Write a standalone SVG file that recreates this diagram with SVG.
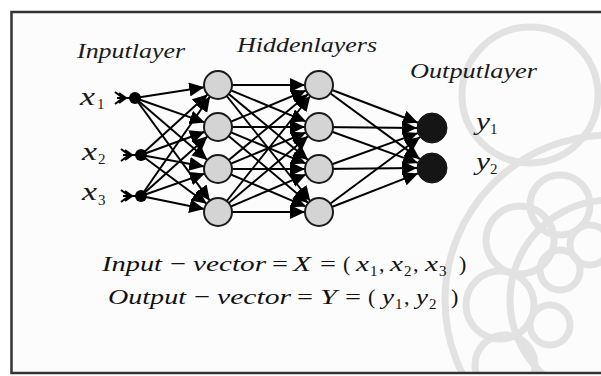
<svg xmlns="http://www.w3.org/2000/svg" width="601" height="376" viewBox="0 0 601 376">
<defs>
<style>
.lbl{font-family:"Liberation Serif","Times New Roman",serif;font-style:italic;font-size:22px;fill:#1a1a1a}
.var{font-family:"Liberation Serif","Times New Roman",serif;font-style:italic;font-size:25px;fill:#1a1a1a}
.sub{font-family:"Liberation Serif","Times New Roman",serif;font-style:normal;font-size:15px;fill:#1a1a1a}
.math{font-family:"Liberation Serif","Times New Roman",serif;font-style:italic;font-size:22px;fill:#111}
.up{font-style:normal}
.sm{font-style:normal;font-size:15px}
.edge{stroke:#000;stroke-width:2;marker-end:url(#ah)}
.hid{fill:#d4d4d4;stroke:#1a1a1a;stroke-width:2}
.out{fill:#151515;stroke:#151515;stroke-width:1}
.inp{fill:#000}
.wm{fill:none;stroke:#e2e2e2;stroke-width:7}
</style>
<marker id="ah" markerUnits="userSpaceOnUse" markerWidth="16" markerHeight="14" refX="15" refY="7" orient="auto">
<path d="M0,0 L15,7 L0,14 z" fill="#000"/>
</marker>
<clipPath id="fr"><rect x="12" y="13" width="589" height="359"/></clipPath>
</defs>
<rect x="0" y="0" width="601" height="376" fill="#fff"/>
<rect x="12" y="13" width="589" height="359" fill="#fcfcfc"/>
<g id="watermark" clip-path="url(#fr)">
<circle class="wm" cx="530" cy="95" r="68"/>
<circle class="wm" cx="610" cy="300" r="165"/>
<circle class="wm" cx="610" cy="300" r="100"/>
<circle class="wm" cx="520" cy="240" r="34"/>
<circle class="wm" cx="500" cy="305" r="34"/>
<circle class="wm" cx="505" cy="365" r="30"/>
<circle class="wm" cx="560" cy="205" r="30"/>
<circle class="wm" cx="560" cy="270" r="20"/>
<circle class="wm" cx="550" cy="325" r="20"/>
<circle class="wm" cx="590" cy="245" r="20"/>
</g>
<g id="frame" fill="none" stroke="#333" stroke-width="2.5">
<path d="M601,12 L11.5,12 L11.5,373 L601,373"/>
</g>
<g id="connectors">
<g id="in-fletch" fill="none" stroke="#000" stroke-width="2">
<path d="M115,92 L123,98 L115,104 M119,93 L126,98 L119,103 M117,98 L135,98"/>
<path d="M121,149 L129,155 L121,161 M125,150 L132,155 L125,160 M123,155 L141,155"/>
<path d="M121,190 L129,196 L121,202 M125,191 L132,196 L125,201 M123,196 L141,196"/>
</g>
<line class="edge" x1="135" y1="98" x2="204.2" y2="87.2"/>
<line class="edge" x1="135" y1="98" x2="204.8" y2="122.4"/>
<line class="edge" x1="135" y1="98" x2="207.4" y2="159.9"/>
<line class="edge" x1="135" y1="98" x2="209.8" y2="200.7"/>
<line class="edge" x1="141" y1="155" x2="207.6" y2="94.4"/>
<line class="edge" x1="141" y1="155" x2="204.8" y2="131.8"/>
<line class="edge" x1="141" y1="155" x2="204.2" y2="166.5"/>
<line class="edge" x1="141" y1="155" x2="206.7" y2="203.7"/>
<line class="edge" x1="141" y1="196" x2="210.0" y2="96.5"/>
<line class="edge" x1="141" y1="196" x2="207.6" y2="136.3"/>
<line class="edge" x1="141" y1="196" x2="204.8" y2="173.6"/>
<line class="edge" x1="141" y1="196" x2="204.3" y2="209.1"/>
<line class="edge" x1="218" y1="85" x2="305" y2="85"/>
<line class="edge" x1="218" y1="85" x2="306.1" y2="121.6"/>
<line class="edge" x1="218" y1="85" x2="308.2" y2="160.1"/>
<line class="edge" x1="218" y1="85" x2="310.3" y2="201"/>
<line class="edge" x1="218" y1="127" x2="306.1" y2="90.4"/>
<line class="edge" x1="218" y1="127" x2="305" y2="127"/>
<line class="edge" x1="218" y1="127" x2="306.1" y2="163.6"/>
<line class="edge" x1="218" y1="127" x2="308.3" y2="203"/>
<line class="edge" x1="218" y1="169" x2="308.2" y2="93.9"/>
<line class="edge" x1="218" y1="169" x2="306.1" y2="132.4"/>
<line class="edge" x1="218" y1="169" x2="305" y2="169"/>
<line class="edge" x1="218" y1="169" x2="306.1" y2="206.6"/>
<line class="edge" x1="218" y1="212" x2="310.3" y2="96"/>
<line class="edge" x1="218" y1="212" x2="308.3" y2="136"/>
<line class="edge" x1="218" y1="212" x2="306.1" y2="174.4"/>
<line class="edge" x1="218" y1="212" x2="305" y2="212"/>
<line class="edge" x1="319" y1="85" x2="418.0" y2="122.7"/>
<line class="edge" x1="319" y1="127" x2="417" y2="127.9"/>
<line class="edge" x1="319" y1="169" x2="417.9" y2="133.1"/>
<line class="edge" x1="319" y1="212" x2="420.0" y2="137.0"/>
<line class="edge" x1="319" y1="85" x2="419.9" y2="159.1"/>
<line class="edge" x1="319" y1="127" x2="417.9" y2="162.9"/>
<line class="edge" x1="319" y1="169" x2="417" y2="168.1"/>
<line class="edge" x1="319" y1="212" x2="418.0" y2="173.4"/>
</g>
<g id="in1"><circle class="inp" cx="135" cy="98" r="6"/><text class="var" x="80" y="105" textLength="15" lengthAdjust="spacingAndGlyphs">x</text><text class="sub" x="97" y="109">1</text></g>
<g id="in2"><circle class="inp" cx="141" cy="155" r="6"/><text class="var" x="82" y="160" textLength="15" lengthAdjust="spacingAndGlyphs">x</text><text class="sub" x="98" y="164">2</text></g>
<g id="in3"><circle class="inp" cx="141" cy="196" r="6"/><text class="var" x="82" y="200" textLength="15" lengthAdjust="spacingAndGlyphs">x</text><text class="sub" x="98" y="205">3</text></g>
<g id="h11"><circle class="hid" cx="218" cy="85" r="14"/></g>
<g id="h12"><circle class="hid" cx="218" cy="127" r="14"/></g>
<g id="h13"><circle class="hid" cx="218" cy="169" r="14"/></g>
<g id="h14"><circle class="hid" cx="218" cy="212" r="14"/></g>
<g id="h21"><circle class="hid" cx="319" cy="85" r="14"/></g>
<g id="h22"><circle class="hid" cx="319" cy="127" r="14"/></g>
<g id="h23"><circle class="hid" cx="319" cy="169" r="14"/></g>
<g id="h24"><circle class="hid" cx="319" cy="212" r="14"/></g>
<g id="o1"><circle class="out" cx="432" cy="128" r="15"/><text class="var" x="476" y="130" textLength="14" lengthAdjust="spacingAndGlyphs">y</text><text class="sub" x="490" y="134">1</text></g>
<g id="o2"><circle class="out" cx="432" cy="168" r="15"/><text class="var" x="476" y="170" textLength="14" lengthAdjust="spacingAndGlyphs">y</text><text class="sub" x="490" y="174">2</text></g>
<g id="layer-labels">
<text class="lbl" x="77" y="58" textLength="108" lengthAdjust="spacingAndGlyphs">Inputlayer</text>
<text class="lbl" x="237" y="52" textLength="140" lengthAdjust="spacingAndGlyphs">Hiddenlayers</text>
<text class="lbl" x="410" y="78" textLength="127" lengthAdjust="spacingAndGlyphs">Outputlayer</text>
</g>
<g id="equations">
<text class="math" y="271"><tspan x="102" textLength="60" lengthAdjust="spacingAndGlyphs">Input</tspan><tspan x="170" class="up" textLength="16" lengthAdjust="spacingAndGlyphs">−</tspan><tspan x="193" textLength="73" lengthAdjust="spacingAndGlyphs">vector</tspan><tspan x="272" class="up" textLength="16" lengthAdjust="spacingAndGlyphs">=</tspan><tspan x="293" textLength="18" lengthAdjust="spacingAndGlyphs">X</tspan><tspan x="320" class="up" textLength="16" lengthAdjust="spacingAndGlyphs">=</tspan><tspan x="343" class="up">(</tspan><tspan x="356" textLength="13" lengthAdjust="spacingAndGlyphs">x</tspan><tspan x="370" y="276" class="sm">1</tspan><tspan x="379" y="271" class="up">,</tspan><tspan x="390" textLength="13" lengthAdjust="spacingAndGlyphs">x</tspan><tspan x="404" y="276" class="sm">2</tspan><tspan x="413" y="271" class="up">,</tspan><tspan x="425" textLength="13" lengthAdjust="spacingAndGlyphs">x</tspan><tspan x="439" y="276" class="sm">3</tspan><tspan x="459" y="271" class="up">)</tspan></text>
<text class="math" y="304"><tspan x="108" textLength="78" lengthAdjust="spacingAndGlyphs">Output</tspan><tspan x="194" class="up" textLength="16" lengthAdjust="spacingAndGlyphs">−</tspan><tspan x="217" textLength="74" lengthAdjust="spacingAndGlyphs">vector</tspan><tspan x="297" class="up" textLength="16" lengthAdjust="spacingAndGlyphs">=</tspan><tspan x="320" textLength="17" lengthAdjust="spacingAndGlyphs">Y</tspan><tspan x="345" class="up" textLength="16" lengthAdjust="spacingAndGlyphs">=</tspan><tspan x="368" class="up">(</tspan><tspan x="382" textLength="12" lengthAdjust="spacingAndGlyphs">y</tspan><tspan x="395" y="309" class="sm">1</tspan><tspan x="404" y="304" class="up">,</tspan><tspan x="416" textLength="12" lengthAdjust="spacingAndGlyphs">y</tspan><tspan x="429" y="309" class="sm">2</tspan><tspan x="451" y="304" class="up">)</tspan></text>
</g>
</svg>
